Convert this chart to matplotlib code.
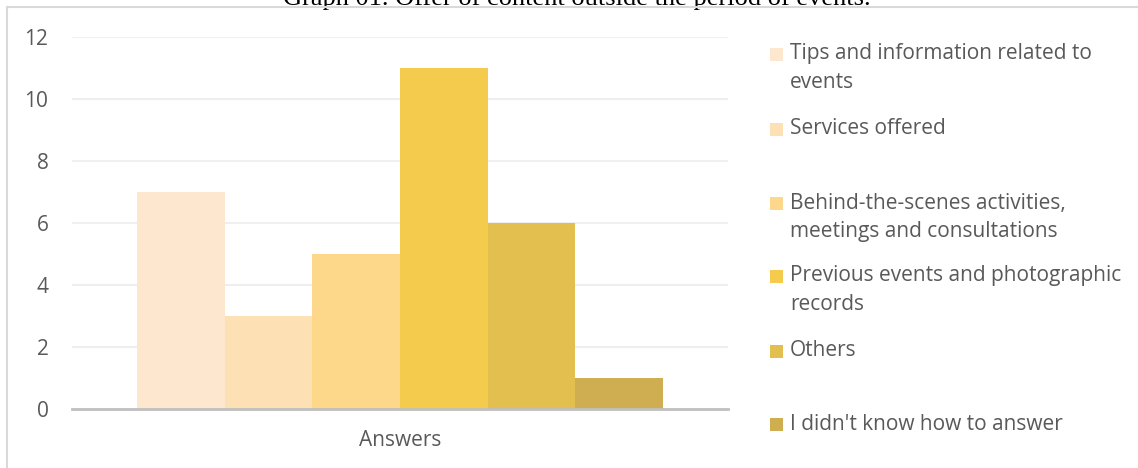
import matplotlib
matplotlib.use("Agg")
import matplotlib.pyplot as plt
from matplotlib.patches import Rectangle

categories = [
    "Tips and information related to\nevents",
    "Services offered",
    "Behind-the-scenes activities,\nmeetings and consultations",
    "Previous events and photographic\nrecords",
    "Others",
    "I didn't know how to answer",
]
values = [7, 3, 5, 11, 6, 1]
colors = ["#FDE8CF", "#FDE0B3", "#FDD78A", "#F4CB4C", "#E3BF50", "#CFAE51"]
group_label = "Answers"
y_ticks = [0, 2, 4, 6, 8, 10, 12]
title = "Graph 01. Offer of content outside the period of events."

W, H = 1138, 468
fig = plt.figure(figsize=(W / 100, H / 100), dpi=100)
fig.patch.set_facecolor("white")

font = "Open Sans"
text_color = "#595959"
fs = 15

# plot area
ax = fig.add_axes([72 / W, 59 / H, 656 / W, 372 / H])
n = len(values)
positions = [i - (n - 1) / 2 for i in range(n)]
ax.bar(positions, values, width=1.0, color=colors, zorder=3)
ax.set_xlim(-3.745, 3.745)
ax.set_ylim(0, 12)
ax.set_yticks(y_ticks)
ax.set_yticklabels([str(t) for t in y_ticks], fontfamily=font, fontsize=fs, color=text_color)
ax.set_xticks([0])
ax.set_xticklabels([group_label], fontfamily=font, fontsize=fs, color=text_color)
ax.tick_params(axis="y", length=0, pad=17)
ax.tick_params(axis="x", length=0, pad=15)
for t in y_ticks[1:]:
    ax.axhline(t, color="#EFEFEF", linewidth=1.5, zorder=1)
for side in ["top", "right", "left"]:
    ax.spines[side].set_visible(False)
ax.spines["bottom"].set_color("#BFBFBF")
ax.spines["bottom"].set_linewidth(2.0)
ax.spines["bottom"].set_zorder(4)
ax.set_facecolor("none")

# legend entries laid out down the right side
legend_tops = [54, 129, 203, 276, 351, 424]
line_step = 29
for label, color, y in zip(categories, colors, legend_tops):
    fig.patches.append(Rectangle((770 / W, 1 - (y + 7) / H), 13 / W, 13 / H,
                                 transform=fig.transFigure, facecolor=color,
                                 edgecolor="none"))
    for k, line in enumerate(label.split("\n")):
        fig.text(790 / W, 1 - (y + k * line_step) / H, line, fontfamily=font,
                 fontsize=fs, color=text_color, va="center", ha="left")

# chart frame
fig.patches.append(Rectangle((7 / W, -0.1), 1.2, 1 - 7 / H + 0.1,
                             transform=fig.transFigure, facecolor="none",
                             edgecolor="#D9D9D9", linewidth=1.5))

fig.text(577 / W, 1 - 4.5 / H, title, fontfamily="Liberation Serif", fontsize=19,
         color="black", ha="center", va="baseline", zorder=0)

fig.savefig("out.png", dpi=100, facecolor="white")
